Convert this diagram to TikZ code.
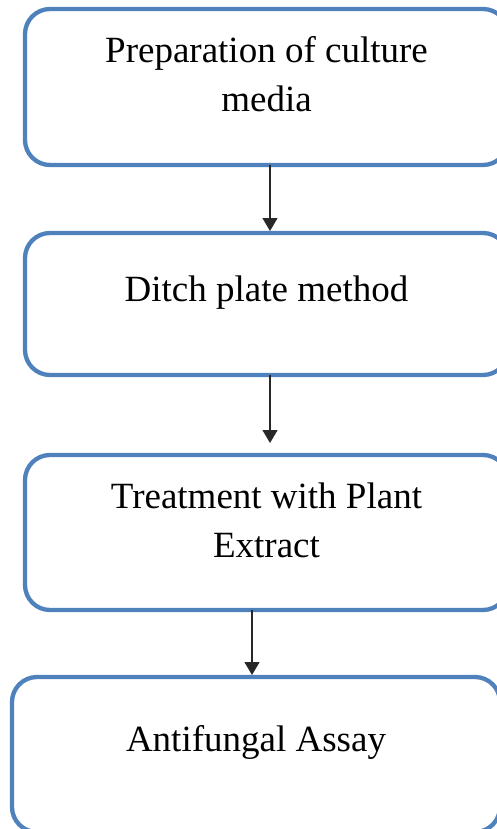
\documentclass[tikz,border=0pt]{standalone}
\usepackage{fontspec}
\setmainfont{Liberation Serif}
\definecolor{boxblue}{RGB}{79, 129, 189}
\definecolor{arrowdark}{RGB}{40, 40, 40}
\usetikzlibrary{positioning, calc, arrows.meta}

\begin{document}
\begin{tikzpicture}[x=1pt, y=-1pt,
    stepbox/.style={draw=boxblue, line width=4.3pt, rounded corners=25pt, fill=white,
        inner sep=0pt, outer sep=0pt, align=center,
        font=\fontsize{37}{49}\selectfont},
    oneline/.style={text height=22pt, text depth=28pt},
    twoline/.style={text height=74pt, text depth=25pt},
    flow/.style={draw=arrowdark, line width=1.3pt, -{Triangle[length=13pt, width=15pt]}}]
    % Page frame
    \useasboundingbox (0,0) rectangle (496,829);

    % Boxes
    \node[stepbox, twoline, minimum width=483pt, minimum height=156pt] (prep) at (266.5,87) {Preparation of culture\\media};
    \node[stepbox, oneline, minimum width=483pt, minimum height=142pt] (ditch) at (266.5,304) {Ditch plate method};
    \node[stepbox, twoline, minimum width=483pt, minimum height=155pt] (treat) at (266.5,532.5) {Treatment with Plant\\Extract};
    \node[stepbox, oneline, minimum width=488pt, minimum height=155pt] (assay) at (256,754.5) {Antifungal Assay};

    % Arrows
    \draw[flow, shorten >=2pt] ([xshift=3.5pt]prep.south) -- ([xshift=3.5pt]ditch.north);
    \draw[flow, shorten >=12pt] ([xshift=3.5pt]ditch.south) -- ([xshift=3.5pt]treat.north);
    \draw[flow, shorten >=2pt] ([xshift=-14.5pt]treat.south) -- ([xshift=-14.5pt]treat.south |- assay.north);
\end{tikzpicture}
\end{document}
